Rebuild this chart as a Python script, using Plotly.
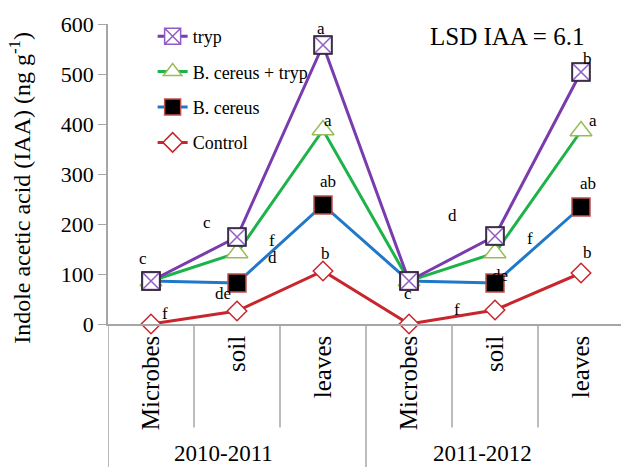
import plotly.graph_objects as go

# Sampling stages within each season
categories = ["Microbes", "soil", "leaves", "Microbes", "soil", "leaves"]
seasons = ["2010-2011", "2011-2012"]

# IAA content (ng g-1) per treatment
tryp = [86, 174, 558, 86, 176, 504]
cereus_tryp = [86, 142, 388, 86, 142, 386]
cereus = [86, 82, 238, 86, 82, 234]
control = [0, 26, 106, 0, 28, 102]

# Significance letters: (letter, x index, y value)
letters = [
    ("c", -0.09, 132), ("f", 0.16, 22), ("c", 0.65, 204), ("f", 1.41, 168),
    ("d", 1.41, 134), ("de", 0.84, 62), ("ab", 2.06, 286), ("b", 2.03, 142),
    ("a", 1.98, 592), ("a", 2.06, 408), ("d", 3.51, 218), ("c", 2.99, 62),
    ("f", 4.41, 172), ("de", 4.06, 98), ("f", 3.56, 30), ("ab", 5.08, 282),
    ("b", 5.07, 144), ("b", 5.07, 532), ("a", 5.14, 408),
]

FONT = "'Liberation Serif', 'Times New Roman', Times, serif"
xs = list(range(len(categories)))

fig = go.Figure()

# drawn bottom to top; legend rank puts tryp first
series = [
    ("Control", control, "#C8252C", 4,
     dict(symbol="diamond", size=15, color="white", line=dict(color="#C8252C", width=1.5))),
    ("B. cereus", cereus, "#1F78C8", 3,
     dict(symbol="square", size=18, color="black", line=dict(color="#C0504D", width=1.5))),
    ("B. cereus + tryp", cereus_tryp, "#1DB34A", 2,
     dict(symbol="triangle-up", size=19, color="white", line=dict(color="#9BBB59", width=1.5))),
    ("tryp", tryp, "#7A3BAE", 1,
     dict(symbol="square-x", size=17, color="white", line=dict(color="#8E5CC4", width=1.5))),
]
for name, vals, col, rank, mk in series:
    fig.add_trace(go.Scatter(
        x=xs, y=vals, name=name, mode="lines+markers",
        line=dict(color=col, width=3), marker=mk,
        legendgroup=name, legendrank=rank, cliponaxis=False,
    ))
# dark outline around the tryp markers
fig.add_trace(go.Scatter(
    x=xs, y=tryp, mode="markers", showlegend=False, hoverinfo="skip",
    marker=dict(symbol="square-open", size=18, color="#222222", line=dict(width=1.5)),
    cliponaxis=False,
))

ann = []
for t, x, y in letters:
    ann.append(dict(x=x, y=y, xref="x", yref="y", text=t, showarrow=False,
                    font=dict(family=FONT, size=17, color="black")))

ann.append(dict(x=0.932, y=1.01, xref="paper", yref="paper", text="LSD IAA = 6.1",
                showarrow=False, xanchor="right", yanchor="top",
                font=dict(family=FONT, size=25, color="black")))
ann.append(dict(x=-0.172, y=0.453, xref="paper", yref="paper",
                xanchor="center", yanchor="middle",
                text="Indole acetic acid (IAA) (ng g<sup>-1</sup>)", textangle=-90,
                showarrow=False, font=dict(family=FONT, size=24, color="black")))
for s, cx in zip(seasons, [0.84, 3.85]):
    ann.append(dict(x=cx, y=-0.43, xref="x", yref="paper", text=s, showarrow=False,
                    yanchor="middle", font=dict(family=FONT, size=23, color="black")))

shapes = []
gray = "#A6A6A6"
# dividers between stages (short) and between seasons (long)
for k in range(1, len(categories)):
    bottom = -0.48 if k % 3 == 0 else -0.345
    shapes.append(dict(type="line", xref="x", yref="paper", x0=k - 0.5, x1=k - 0.5,
                       y0=0, y1=bottom, line=dict(color=gray, width=1.5)))
shapes.append(dict(type="line", xref="x", yref="paper", x0=-0.5, x1=-0.5,
                   y0=0, y1=-0.48, line=dict(color=gray, width=1.5)))

fig.update_layout(
    width=621, height=467,
    margin=dict(l=108, r=0, t=24, b=143),
    plot_bgcolor="white", paper_bgcolor="white",
    font=dict(family=FONT, color="black"),
    showlegend=True,
    legend=dict(x=0.087, y=1.02, xanchor="left", yanchor="top",
                traceorder="grouped", tracegroupgap=9,
                font=dict(family=FONT, size=18, color="black"),
                bgcolor="rgba(0,0,0,0)"),
    xaxis=dict(type="linear", range=[-0.5, 5.465], tickmode="array", tickvals=xs,
               ticktext=categories, tickangle=-90, showgrid=False, zeroline=False,
               showline=True, linecolor=gray, linewidth=1.5, ticks="",
               tickfont=dict(family=FONT, size=25, color="black")),
    yaxis=dict(range=[0, 600], tickvals=[0, 100, 200, 300, 400, 500, 600],
               showgrid=False, zeroline=False, showline=True, linecolor=gray,
               linewidth=1.5, ticks="outside", ticklen=8, tickcolor=gray,
               tickfont=dict(family=FONT, size=22, color="black")),
    annotations=ann, shapes=shapes,
)

fig.write_html("out.html")
